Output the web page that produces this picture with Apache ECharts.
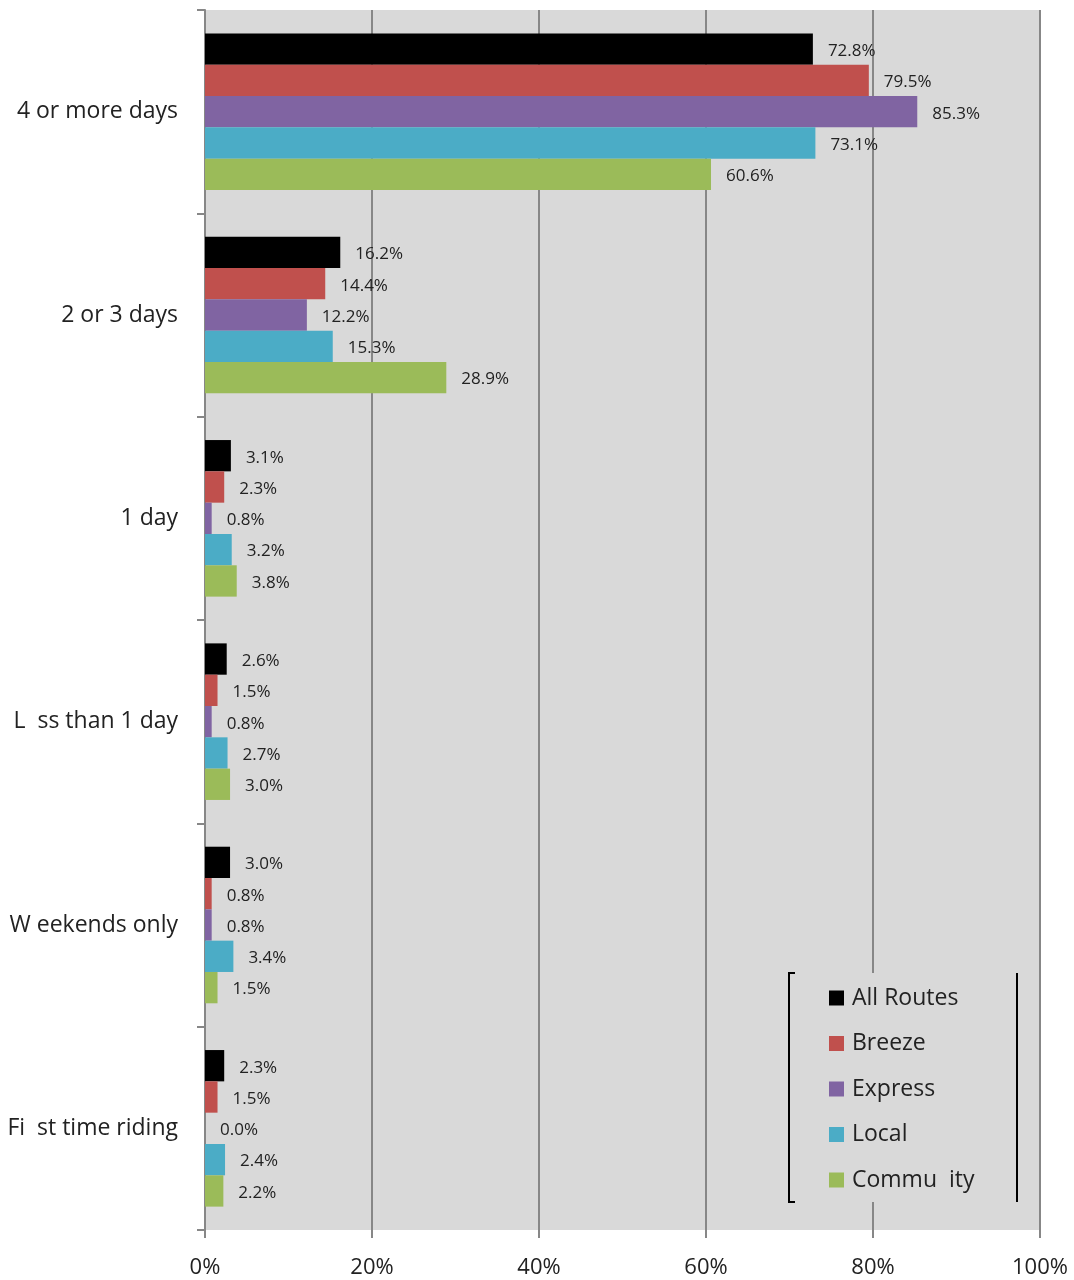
<!DOCTYPE html>
<html><head><meta charset="utf-8">
<script src="https://cdn.jsdelivr.net/npm/echarts@6/dist/echarts.min.js"></script>
<style>html,body{margin:0;padding:0;background:#fff}#c{width:1074px;height:1280px}</style>
</head><body><div id="c"></div>
<script>
const categories = ['4 or more days', '2 or 3 days', '1 day', 'L  ss than 1 day', 'W eekends only', 'Fi  st time riding'];
const seriesNames = ['All Routes', 'Breeze', 'Express', 'Local', 'Commu  ity'];
const allRoutes = [72.8, 16.2, 3.1, 2.6, 3.0, 2.3];
const breeze = [79.5, 14.4, 2.3, 1.5, 0.8, 1.5];
const express = [85.3, 12.2, 0.8, 0.8, 0.8, 0.0];
const local = [73.1, 15.3, 3.2, 2.7, 3.4, 2.4];
const community = [60.6, 28.9, 3.8, 3.0, 1.5, 2.2];
const xTicks = [0, 20, 40, 60, 80, 100];
const colors = ['#000000', '#c0504d', '#8064a2', '#4bacc6', '#9bbb59'];
const values = [allRoutes, breeze, express, local, community];
const FONT = 'Open Sans';

const chart = echarts.init(document.getElementById('c'));
chart.setOption({
  animation: false,
  textStyle: { fontFamily: FONT },
  grid: { left: 205, right: 34, top: 10, bottom: 50, show: true, backgroundColor: '#d9d9d9', borderWidth: 0 },
  xAxis: {
    type: 'value', min: xTicks[0], max: xTicks[xTicks.length - 1], interval: 20,
    axisLine: { show: false },
    axisTick: { show: true, length: 8, lineStyle: { color: '#878787', width: 2 } },
    splitLine: { show: true, lineStyle: { color: '#878787', width: 2 } },
    axisLabel: { formatter: '{value}%', color: '#222', fontSize: 22, margin: 27, fontFamily: FONT }
  },
  yAxis: {
    type: 'category', data: categories, inverse: true,
    axisLine: { show: true, lineStyle: { color: '#878787', width: 2 } },
    axisTick: { show: true, length: 8, lineStyle: { color: '#878787', width: 2 } },
    axisLabel: { color: '#222', fontSize: 23, margin: 27, fontFamily: FONT }
  },
  legend: {
    orient: 'vertical', left: 789, top: 973,
    padding: [13, 40, 10, 40],
    backgroundColor: '#d9d9d9',
    itemWidth: 15, itemHeight: 15, itemGap: 21.5,
    icon: 'rect',
    textStyle: { fontSize: 23, color: '#222', fontFamily: FONT, lineHeight: 24, padding: [0, 0, 0, 3] },
    data: seriesNames
  },
  graphic: [
    { type: 'polyline', z: 100, shape: { points: [[795, 973], [789, 973], [789, 1202], [795, 1202]] }, style: { stroke: '#000', lineWidth: 2, fill: null } },
    { type: 'line', z: 100, shape: { x1: 1017, y1: 973, x2: 1017, y2: 1202 }, style: { stroke: '#000', lineWidth: 2 } }
  ],
  series: seriesNames.map((n, i) => ({
    name: n, type: 'bar', data: values[i],
    itemStyle: { color: colors[i] },
    barGap: '0%', barCategoryGap: '23%',
    label: { show: true, position: 'right', distance: 15, offset: [0, 2], formatter: p => p.value.toFixed(1) + '%', color: '#222', fontSize: 17, fontFamily: FONT }
  }))
});
</script></body></html>
